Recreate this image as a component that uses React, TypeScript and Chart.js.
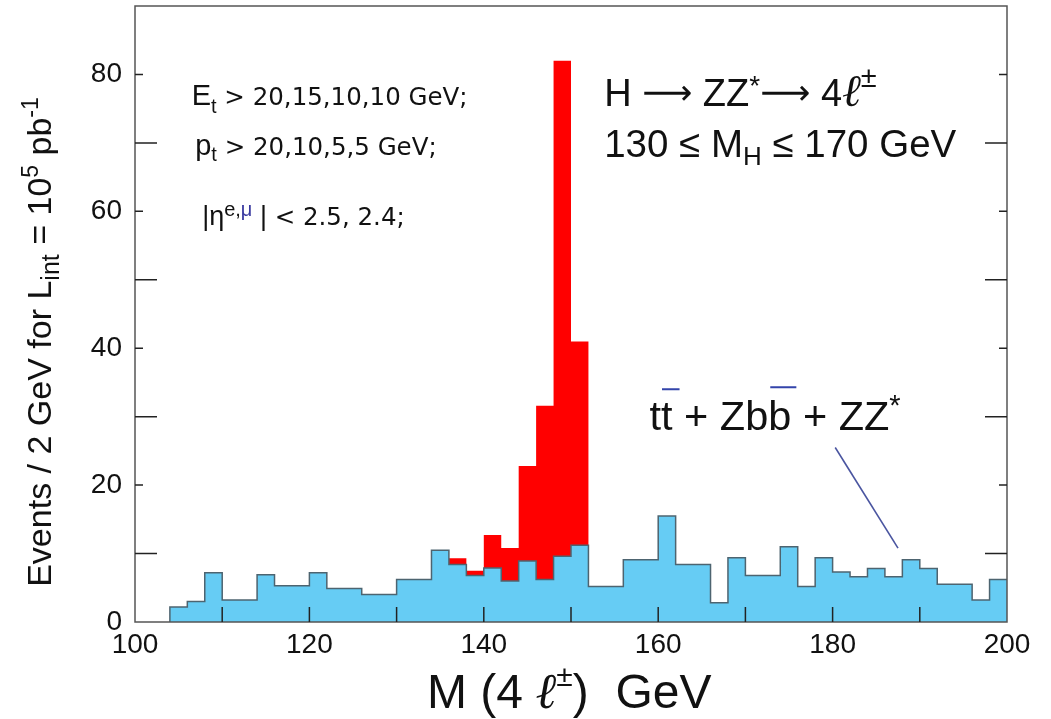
import React, { useEffect, useRef } from 'react';
import { Chart, registerables } from 'chart.js';

Chart.register(...registerables);

// ---- data ----
const binLowEdges = [104, 106, 108, 110, 112, 114, 116, 118, 120, 122, 124, 126, 128, 130, 132, 134, 136, 138, 140, 142, 144, 146, 148, 150, 152, 154, 156, 158, 160, 162, 164, 166, 168, 170, 172, 174, 176, 178, 180, 182, 184, 186, 188, 190, 192, 194, 196, 198];
const binWidth = 2;
const backgroundEvents = [2.2, 3.0, 7.2, 3.2, 3.2, 6.9, 5.3, 5.3, 7.2, 4.9, 4.9, 4.0, 4.0, 6.2, 6.2, 10.5, 8.4, 6.8, 7.9, 6.0, 8.9, 6.2, 9.6, 11.2, 5.2, 5.2, 9.1, 9.1, 15.5, 8.4, 8.4, 2.8, 9.4, 6.8, 6.8, 11.0, 5.2, 9.4, 7.3, 6.6, 7.8, 6.6, 9.1, 7.8, 5.5, 5.5, 3.2, 6.2];
const peakBins = [136, 138, 140, 142, 144, 146, 148, 150];
const peakTotalEvents = [9.3, 7.5, 12.7, 10.8, 22.8, 31.6, 82.0, 41.0];
const xTickLabels = [100, 120, 140, 160, 180, 200];
const yTickLabels = [0, 20, 40, 60, 80];
const xTickMarks = [110, 120, 130, 140, 150, 160, 170, 180, 190];
const yTickMarks = [10, 20, 30, 40, 50, 60, 70, 80];
const X_MIN = 100;
const X_MAX = 200;
const Y_MIN = 0;
const Y_MAX = 90;

const SANS = '"Liberation Sans", Arial, sans-serif';
const WIDE = '"DejaVu Sans", sans-serif';
const SERIF = '"Liberation Serif", serif';

type Run = { t: string; size: number; family?: string; style?: string; dy?: number; color?: string };

function setFont(ctx: CanvasRenderingContext2D, r: Run) {
  ctx.font = `${r.style || ''} ${r.size}px ${r.family || SANS}`;
}
function runsWidth(ctx: CanvasRenderingContext2D, runs: Run[]) {
  let w = 0;
  for (const r of runs) { setFont(ctx, r); w += ctx.measureText(r.t).width; }
  return w;
}
function drawRuns(ctx: CanvasRenderingContext2D, x: number, y: number, runs: Run[]) {
  let cx = x;
  const pos: number[] = [];
  for (const r of runs) {
    setFont(ctx, r);
    ctx.fillStyle = r.color || '#111';
    pos.push(cx);
    ctx.fillText(r.t, cx, y + (r.dy || 0));
    cx += ctx.measureText(r.t).width;
  }
  pos.push(cx);
  return pos;
}

function histogramPoints(values: number[]) {
  const pts: { x: number; y: number }[] = [{ x: binLowEdges[0], y: 0 }];
  values.forEach((v, i) => pts.push({ x: binLowEdges[i], y: v }));
  pts.push({ x: binLowEdges[binLowEdges.length - 1] + binWidth, y: values[values.length - 1] });
  return pts;
}

const decorPlugin = {
  id: 'decor',
  afterDraw(chart: any) {
    const { ctx, chartArea: a, scales } = chart;
    const xs = scales.x;
    const ys = scales.y;
    ctx.save();
    ctx.textBaseline = 'alphabetic';
    ctx.textAlign = 'left';

    // frame
    ctx.strokeStyle = '#555';
    ctx.lineWidth = 1.5;
    ctx.strokeRect(a.left, a.top, a.right - a.left, a.bottom - a.top);

    // inward tick marks
    ctx.strokeStyle = '#222';
    ctx.lineWidth = 1.5;
    for (const v of xTickMarks) {
      const px = xs.getPixelForValue(v);
      ctx.beginPath();
      ctx.moveTo(px, a.bottom);
      ctx.lineTo(px, a.bottom - 15);
      ctx.stroke();
    }
    for (const v of yTickMarks) {
      const py = ys.getPixelForValue(v);
      const len = v % 20 === 0 ? 8 : 22;
      ctx.beginPath();
      ctx.moveTo(a.left, py);
      ctx.lineTo(a.left + len, py);
      ctx.moveTo(a.right, py);
      ctx.lineTo(a.right - len, py);
      ctx.stroke();
    }

    const P = (xv: number, yv: number) => [xs.getPixelForValue(xv), ys.getPixelForValue(yv)];

    // cuts text (top left)
    let [tx, ty] = P(106.5, 75.5);
    drawRuns(ctx, tx, ty, [
      { t: 'E', size: 29, family: SANS },
      { t: 't', size: 20, family: SANS, dy: 8 },
      { t: ' > 20,15,10,10 GeV;', size: 24.5, family: WIDE },
    ]);
    [tx, ty] = P(106.9, 68.2);
    drawRuns(ctx, tx, ty, [
      { t: 'p', size: 29, family: SANS },
      { t: 't', size: 20, family: SANS, dy: 6 },
      { t: ' > 20,10,5,5 GeV;', size: 24.5, family: WIDE },
    ]);
    [tx, ty] = P(107.7, 58.0);
    drawRuns(ctx, tx, ty, [
      { t: '|η', size: 27, family: SANS },
      { t: 'e,', size: 20, family: SANS, dy: -9 },
      { t: 'μ', size: 20, family: SANS, dy: -9, color: '#3a3aa0' },
      { t: ' |', size: 27, family: SANS },
      { t: ' < 2.5, 2.4;', size: 24.5, family: WIDE },
    ]);

    // process text (top right)
    [tx, ty] = P(153.8, 75.4);
    drawRuns(ctx, tx, ty, [
      { t: 'H ', size: 38 },
      { t: '⟶', size: 35, family: WIDE, dy: -2 },
      { t: ' ZZ', size: 38 },
      { t: '*', size: 28, dy: -11 },
      { t: '⟶', size: 35, family: WIDE, dy: -2 },
      { t: ' 4', size: 38 },
      { t: 'ℓ', size: 45, family: SERIF, style: 'italic' },
      { t: '±', size: 29, dy: -19 },
    ]);
    [tx, ty] = P(153.8, 67.9);
    drawRuns(ctx, tx, ty, [
      { t: '130 ≤ M', size: 38.5 },
      { t: 'H', size: 26, dy: 8 },
      { t: ' ≤ 170 GeV', size: 38.5 },
    ]);

    // background label
    [tx, ty] = P(159.0, 28.0);
    const bgRuns: Run[] = [
      { t: 't', size: 41.5 },
      { t: 't', size: 41.5 },
      { t: ' + Zb', size: 41.5 },
      { t: 'b', size: 41.5 },
      { t: ' + ZZ', size: 41.5 },
      { t: '*', size: 29, dy: -15 },
    ];
    const pos = drawRuns(ctx, tx, ty, bgRuns);
    ctx.strokeStyle = '#3344aa';
    ctx.lineWidth = 2;
    ctx.beginPath();
    ctx.moveTo(pos[1] + 1, ty - 41);
    ctx.lineTo(pos[2] + 7, ty - 41);
    ctx.moveTo(pos[3] + 2, ty - 43);
    ctx.lineTo(pos[4] + 5, ty - 43);
    ctx.stroke();

    // leader line
    const [l1x, l1y] = P(180.3, 25.5);
    const [l2x, l2y] = P(187.5, 10.8);
    ctx.strokeStyle = '#4a55a0';
    ctx.lineWidth = 1.6;
    ctx.beginPath();
    ctx.moveTo(l1x, l1y);
    ctx.lineTo(l2x, l2y);
    ctx.stroke();

    // x title
    drawRuns(ctx, a.left + 292, a.bottom + 86, [
      { t: 'M (4', size: 48 },
      { t: ' ℓ', size: 50, family: SERIF, style: 'italic' },
      { t: '±', size: 30, dy: -22 },
      { t: ')  GeV', size: 48 },
    ]);

    // y title (rotated)
    const yRuns: Run[] = [
      { t: 'Events / 2 GeV for L', size: 34 },
      { t: 'int', size: 25, dy: 8 },
      { t: ' = 10', size: 34 },
      { t: '5', size: 23, dy: -13 },
      { t: ' pb', size: 34 },
      { t: '-1', size: 23, dy: -13 },
    ];
    const w = runsWidth(ctx, yRuns);
    ctx.save();
    ctx.translate(51, 342);
    ctx.rotate(-Math.PI / 2);
    drawRuns(ctx, -w / 2, 0, yRuns);
    ctx.restore();

    ctx.restore();
  },
};

export default function App() {
  const canvasRef = useRef<HTMLCanvasElement | null>(null);

  useEffect(() => {
    const canvas = canvasRef.current;
    if (!canvas) return;

    const totals = backgroundEvents.map((v, i) => {
      const k = peakBins.indexOf(binLowEdges[i]);
      return k >= 0 ? peakTotalEvents[k] : v;
    });

    const chart = new Chart(canvas, {
      type: 'line',
      data: {
        datasets: [
          {
            label: 'tt + Zbb + ZZ*',
            data: histogramPoints(backgroundEvents),
            stepped: 'before',
            fill: 'origin',
            backgroundColor: '#66ccf4',
            borderColor: '#4d6470',
            borderWidth: 1.5,
            pointRadius: 0,
          },
          {
            label: 'H → ZZ* → 4l',
            data: histogramPoints(totals),
            stepped: 'before',
            fill: 'origin',
            backgroundColor: '#ff0000',
            borderColor: '#ff0000',
            borderWidth: 0,
            pointRadius: 0,
          },
        ],
      },
      options: {
        responsive: false,
        animation: false,
        devicePixelRatio: 1,
        parsing: false as any,
        layout: { padding: { top: 6, right: 44, left: 0, bottom: 0 } },
        plugins: { legend: { display: false }, tooltip: { enabled: false } },
        scales: {
          x: {
            type: 'linear',
            min: X_MIN,
            max: X_MAX,
            border: { display: false },
            grid: { display: false, drawTicks: false },
            afterBuildTicks: (s: any) => { s.ticks = xTickLabels.map((v) => ({ value: v })); },
            ticks: {
              autoSkip: false,
              maxRotation: 0,
              padding: 6,
              color: '#111',
              font: { family: SANS, size: 28 },
              callback: (v: any) => String(v),
            },
            afterFit: (s: any) => { s.height = 97; s.paddingLeft = 0; s.paddingRight = 0; },
          },
          y: {
            type: 'linear',
            min: Y_MIN,
            max: Y_MAX,
            border: { display: false },
            grid: { display: false, drawTicks: false },
            afterBuildTicks: (s: any) => { s.ticks = yTickLabels.map((v) => ({ value: v })); },
            ticks: {
              autoSkip: false,
              padding: 13,
              color: '#111',
              font: { family: SANS, size: 28 },
              callback: (v: any) => String(v),
            },
            afterFit: (s: any) => { s.width = 135; s.paddingTop = 0; s.paddingBottom = 0; },
          },
        },
      },
      plugins: [decorPlugin],
    } as any);

    return () => chart.destroy();
  }, []);

  return (
    <div style={{ position: 'absolute', left: 0, top: 0, width: 1051, height: 719, background: '#fff' }}>
      <canvas ref={canvasRef} width={1051} height={719} style={{ display: 'block' }} />
    </div>
  );
}
